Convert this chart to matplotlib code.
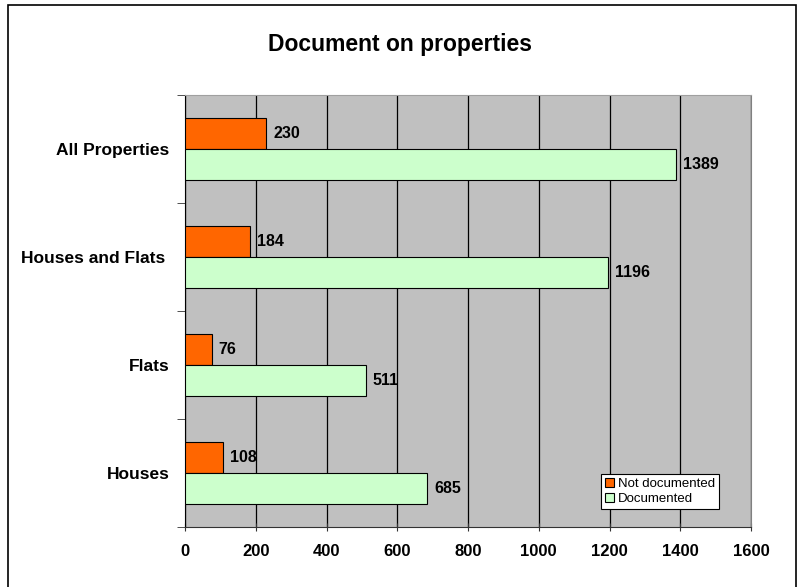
import numpy as np
import matplotlib.pyplot as plt
from matplotlib.patches import Rectangle

plt.rcParams['font.family'] = ['Liberation Sans', 'DejaVu Sans']

categories = ['Houses', 'Flats', 'Houses and Flats ', 'All Properties']
not_documented = [108, 76, 184, 230]
documented = [685, 511, 1196, 1389]
xticks = [0, 200, 400, 600, 800, 1000, 1200, 1400, 1600]

fig = plt.figure(figsize=(8.01, 5.87), dpi=100)
ax = fig.add_axes([185 / 801, 1 - 527 / 587, 566 / 801, 432 / 587])
ax.set_facecolor('#c0c0c0')

y = np.arange(len(categories))
h = 0.29
b1 = ax.barh(y + h / 2, not_documented, height=h, color='#ff6600',
             edgecolor='black', linewidth=0.8, label='Not documented', zorder=3)
b2 = ax.barh(y - h / 2, documented, height=h, color='#ccffcc',
             edgecolor='black', linewidth=0.8, label='Documented', zorder=3)

for bars in (b1, b2):
    for r in bars:
        ax.annotate(f'{int(r.get_width())}', (r.get_width(), r.get_y() + r.get_height() / 2),
                    xytext=(5, 0), textcoords='offset points', va='center', ha='left',
                    fontsize=11.5, fontweight='bold', zorder=4)

ax.set_xlim(0, 1600)
ax.set_ylim(-0.5, len(categories) - 0.5)
ax.set_xticks(xticks)
ax.set_xticklabels([str(t) for t in xticks], fontsize=12, fontweight='bold')
ax.set_yticks(y)
ax.set_yticklabels(categories, fontsize=12.5, fontweight='bold')
ax.set_yticks(np.arange(-0.5, len(categories), 1), minor=True)
ax.tick_params(axis='y', which='major', length=0, pad=11)
ax.tick_params(axis='y', which='minor', length=6, direction='out', color='#333333')
ax.tick_params(axis='x', length=6, direction='inout', pad=9, color='#333333')
ax.xaxis.grid(True, color='black', linewidth=0.9, zorder=1)
ax.set_axisbelow(True)

ax.spines['left'].set_color('black')
ax.spines['bottom'].set_color('#333333')
ax.spines['top'].set_color('#a0a0a0')
ax.spines['right'].set_color('#808080')

fig.text(0.5, 1 - 44 / 587, 'Document on properties', ha='center', va='center',
         fontsize=16.5, fontweight='bold')

leg = ax.legend(loc='lower right', bbox_to_anchor=((719 - 185) / 566, (527 - 509) / 432),
                fontsize=9.5, frameon=True, fancybox=False, edgecolor='black',
                framealpha=1, facecolor='white',
                handlelength=0.7, handleheight=0.7, handletextpad=0.3,
                borderpad=0.3, labelspacing=0.2, borderaxespad=0)
leg.get_frame().set_linewidth(0.8)

fig.patches.append(Rectangle((8 / 801, -0.01), 788 / 801, 1.01 - 5 / 587,
                             transform=fig.transFigure, fill=False,
                             edgecolor='black', linewidth=1.2))

fig.savefig('out.png', dpi=100)
